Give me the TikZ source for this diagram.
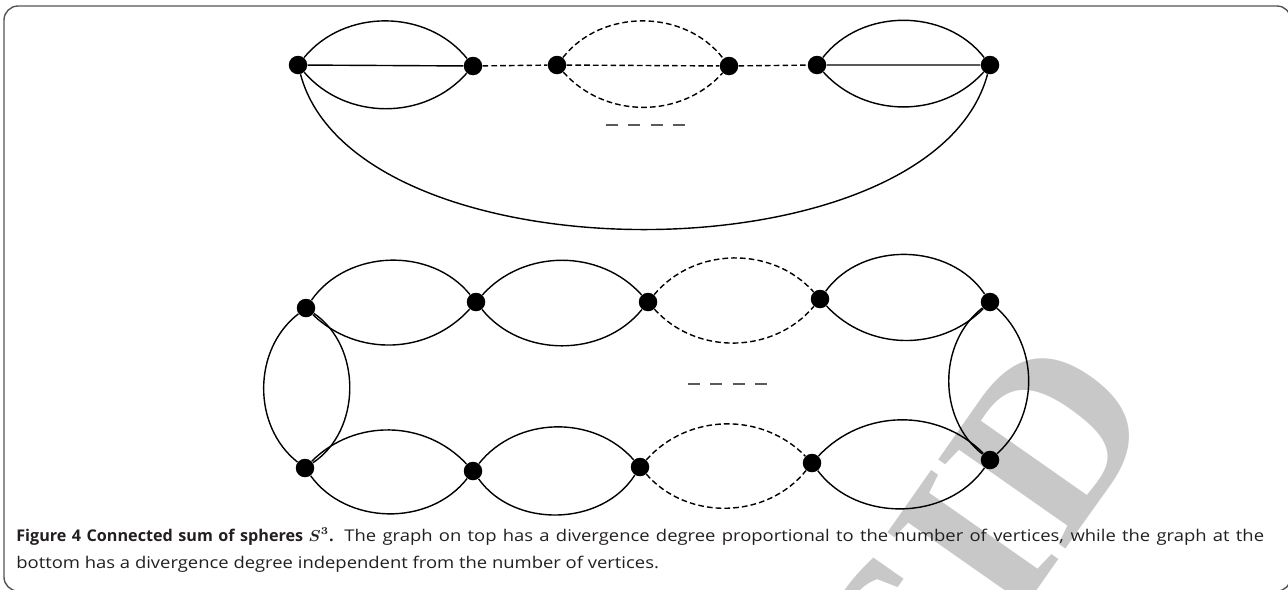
\documentclass[tikz,border=0pt]{standalone}
\usepackage{fontspec}
\setmainfont{Open Sans}[UprightFeatures={FakeStretch=1.14}]
\usepackage{amsmath, amssymb}
\usepackage{tikz}
\usetikzlibrary{positioning, calc}
\definecolor{framegray}{RGB}{85, 85, 85}
\definecolor{markgray}{RGB}{200, 200, 200}
\definecolor{ellgray}{RGB}{90, 90, 90}
\definecolor{captext}{RGB}{35, 31, 32}

\begin{document}
\begin{tikzpicture}[x=0.02cm, y=-0.02cm,
  vtx/.style={circle, fill=black, inner sep=0pt, minimum size=0.37cm},
  lline/.style={line width=0.8pt},
  dline/.style={lline, dash pattern=on 3.2pt off 1.8pt},
  ellip/.style={ellgray, line width=1.1pt, dash pattern=on 6.8pt off 5.9pt}]
  \useasboundingbox (0,0) rectangle (1288,589);

  % Frame
  \draw[framegray, line width=0.8pt, rounded corners=8] (4,6) rectangle (1291,591);

  % Watermark
  \node[markgray, rotate=55, font=\fontspec{Liberation Serif}\bfseries\fontsize{135}{135}\selectfont] (mark) at (985,530) {SID};

  % Top graph
  \node[vtx] (t1) at (298,65) {};
  \node[vtx] (t2) at (473,66) {};
  \node[vtx] (t3) at (557,65) {};
  \node[vtx] (t4) at (729,66) {};
  \node[vtx] (t5) at (817,65) {};
  \node[vtx] (t6) at (990,65) {};

  \draw[lline] (t1) to[bend left=51] (t2) (t1) -- (t2) (t1) to[bend right=49] (t2);
  \draw[dline] (t2) -- (t3);
  \draw[dline] (t3) to[bend left=52] (t4) (t3) -- (t4) (t3) to[bend right=48] (t4);
  \draw[dline] (t4) -- (t5);
  \draw[lline] (t5) to[bend left=52] (t6) (t5) -- (t6) (t5) to[bend right=48] (t6);
  \draw[lline] (t1) to[out=-75, in=-105, looseness=0.8] (t6);
  \draw[ellip] (606,125) -- (685,125);

  % Bottom graph
  \node[vtx] (b1) at (306,308) {};
  \node[vtx] (b2) at (476,302) {};
  \node[vtx] (b3) at (648,302) {};
  \node[vtx] (b4) at (820,299) {};
  \node[vtx] (b5) at (990,302) {};
  \node[vtx] (c1) at (305,468) {};
  \node[vtx] (c2) at (473,471) {};
  \node[vtx] (c3) at (640,467) {};
  \node[vtx] (c4) at (812,463) {};
  \node[vtx] (c5) at (990,460) {};

  \draw[lline] (b1) to[bend left=53] (b2) (b1) to[bend right=46] (b2);
  \draw[lline] (b2) to[bend left=48] (b3) (b2) to[bend right=51] (b3);
  \draw[dline] (b3) to[bend left=49] (b4) (b3) to[bend right=49] (b4);
  \draw[lline] (b4) to[bend left=55] (b5) (b4) to[bend right=46] (b5);
  \draw[lline] (c1) to[bend left=46] (c2) (c1) to[bend right=53] (c2);
  \draw[lline] (c2) to[bend left=50] (c3) (c2) to[bend right=56] (c3);
  \draw[dline] (c3) to[bend left=47] (c4) (c3) to[bend right=50] (c4);
  \draw[lline] (c4) to[bend left=46] (c5) (c4) to[bend right=54] (c5);
  \draw[lline] (b1) to[bend left=56] (c1) (b1) to[bend right=52] (c1);
  \draw[lline] (b5) to[bend left=48] (c5) (b5) to[bend right=52] (c5);
  \draw[ellip] (688,384) -- (768,384);

  % Caption
  \node[anchor=base west, align=justify, text width=24.96cm, inner sep=0pt, text=captext,
    font=\fontsize{9.2}{15.4}\selectfont] (cap) at (16,541) {%
    \noindent\textbf{Figure 4 Connected sum of spheres $\boldsymbol{S^3}$.} The graph on top has a divergence degree proportional to the number of vertices, while the graph at the\linebreak
    bottom has a divergence degree independent from the number of vertices.};
\end{tikzpicture}
\end{document}
